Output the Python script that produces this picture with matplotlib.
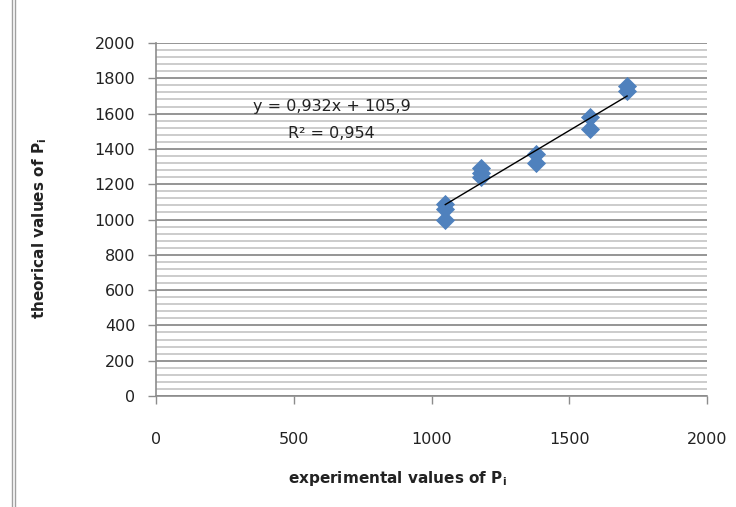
import matplotlib.pyplot as plt
import numpy as np
from matplotlib.lines import Line2D
from matplotlib.ticker import MultipleLocator

plt.rcParams['font.family'] = ['DejaVu Sans']

# data
exp_vals = [1050, 1050, 1050, 1180, 1180, 1180, 1380, 1380, 1575, 1575, 1710, 1710]
theo_vals = [1090, 1060, 1000, 1290, 1265, 1240, 1370, 1320, 1580, 1515, 1755, 1730]
slope, intercept, r2 = 0.932, 105.9, 0.954

fig = plt.figure(figsize=(7.36, 5.07), dpi=100)
ax = fig.add_axes([156/736, 1 - 396/507, 551/736, 353/507])

ax.scatter(exp_vals, theo_vals, marker='D', s=95, color='#4F81BD', zorder=3,
           linewidths=0)

xs = np.array([min(exp_vals), max(exp_vals)])
ax.plot(xs, slope * xs + intercept, color='black', lw=1.0, zorder=4)

ax.set_xlim(0, 2000)
ax.set_ylim(0, 2000)
ax.xaxis.set_major_locator(MultipleLocator(500))
ax.yaxis.set_major_locator(MultipleLocator(200))
ax.yaxis.set_minor_locator(MultipleLocator(40))
ax.grid(which='major', axis='y', color='#8c8c8c', lw=1.3)
ax.grid(which='minor', axis='y', color='#c8c8c8', lw=1.3)
ax.set_axisbelow(True)
ax.tick_params(which='minor', length=0)
ax.tick_params(axis='x', which='major', direction='out', length=6, width=1,
               color='#8c8c8c', pad=20, labelsize=11.5, labelcolor='#222222')
ax.tick_params(axis='y', which='major', direction='out', length=6, width=1,
               color='#8c8c8c', pad=9, labelsize=11.5, labelcolor='#222222')
for s in ['top', 'right']:
    ax.spines[s].set_visible(False)
for s in ['left', 'bottom']:
    ax.spines[s].set_color('#8c8c8c')
    ax.spines[s].set_linewidth(1.2)

eq = 'y = {:.3f}x + {:.1f}'.format(slope, intercept).replace('.', ',')
ax.text(332/736, 1 - 107/507, eq, transform=fig.transFigure, ha='center',
        va='center', fontsize=11.5, color='#222222')
ax.text(331/736, 1 - 133/507, 'R² = {:.3f}'.format(r2).replace('.', ','),
        transform=fig.transFigure, ha='center', va='center', fontsize=11.5,
        color='#222222')

fig.text(397/736, 1 - 478/507, r'experimental values of P$_\mathregular{i}$',
         ha='center', va='center', fontsize=11, fontweight='bold', color='#222222')
fig.text(40/736, 1 - 228/507, r'theorical values of P$_\mathregular{i}$',
         ha='center', va='center', rotation=90, fontsize=11, fontweight='bold',
         color='#222222')

# chart frame on the left
for xpx in (11.5, 14.5):
    fig.add_artist(Line2D([xpx/736, xpx/736], [0, 1], transform=fig.transFigure,
                          color='#a0a0a0', lw=1))

fig.savefig('out.png', dpi=100)
